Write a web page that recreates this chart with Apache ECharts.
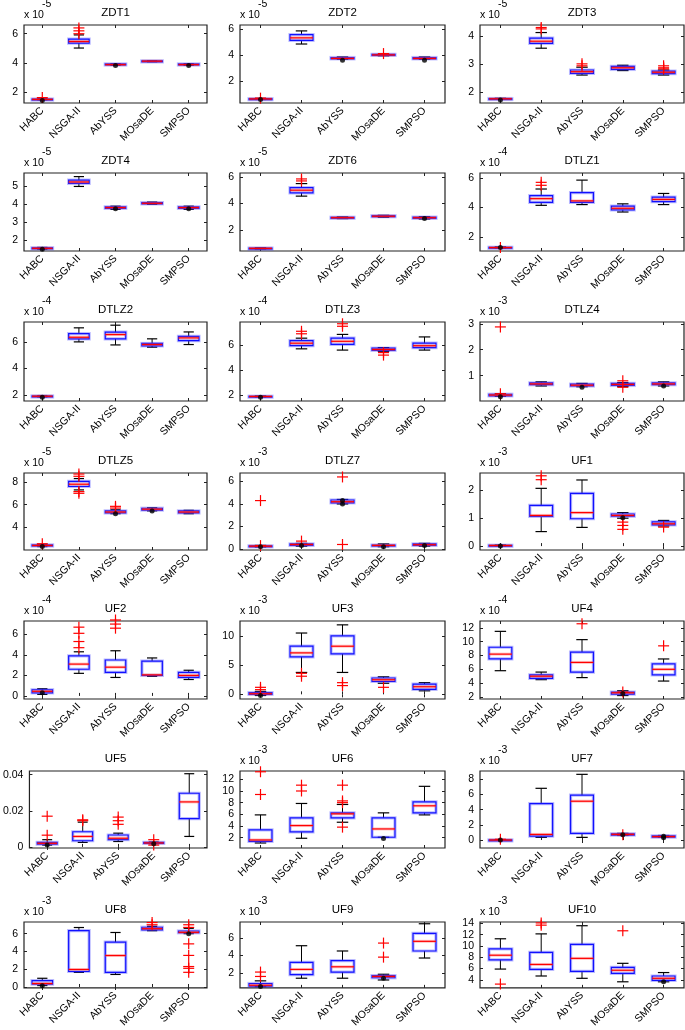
<!DOCTYPE html>
<html><head><meta charset="utf-8">
<script src="https://cdn.jsdelivr.net/npm/echarts@6/dist/echarts.min.js"></script>
<style>html,body{margin:0;padding:0;background:#fff}#c{width:685px;height:1030px}</style>
</head><body><div id="c"></div>
<script>
const algorithms = ['HABC', 'NSGA-II', 'AbYSS', 'MOsaDE', 'SMPSO'];
const problems = ['ZDT1','ZDT2','ZDT3','ZDT4','ZDT6','DTLZ1','DTLZ2','DTLZ3','DTLZ4','DTLZ5','DTLZ7','UF1','UF2','UF3','UF4','UF5','UF6','UF7','UF8','UF9','UF10'];
const exponents = ['-5','-5','-5','-5','-5','-4','-4','-4','-3','-5','-3','-3','-4','-3','-4','','-3','-3','-3','-3','-3'];

// box values per algorithm: [lower whisker, Q1, median, Q3, upper whisker] (in units of the panel multiplier)
// outliers / dots: [algorithm index, value]
const ZDT1_box = [[1.47,1.49,1.5,1.52,1.54],[5.02,5.36,5.47,5.63,5.92],[3.83,3.86,3.88,3.93,3.95],[4.08,4.1,4.12,4.14,4.16],[3.83,3.86,3.88,3.93,3.95]];
const ZDT1_out = [[0,1.62],[1,6.0],[1,6.2],[1,6.4]];
const ZDT1_dot = [[0,1.42],[2,3.82],[4,3.82]];
const ZDT1_range = [1.25, 6.6];
const ZDT1_ticks = [2, 4, 6];

const ZDT2_box = [[0.62,0.64,0.66,0.68,0.7],[4.85,5.12,5.32,5.57,5.85],[3.68,3.72,3.75,3.82,3.86],[3.95,3.98,4.02,4.06,4.1],[3.68,3.72,3.75,3.82,3.86]];
const ZDT2_out = [[0,0.72],[3,4.12]];
const ZDT2_dot = [[0,0.62],[2,3.62],[4,3.62]];
const ZDT2_range = [0.35, 6.3];
const ZDT2_ticks = [2, 4, 6];

const ZDT3_box = [[1.73,1.74,1.75,1.76,1.77],[3.56,3.73,3.81,3.92,4.12],[2.6,2.66,2.72,2.78,2.88],[2.76,2.8,2.86,2.91,2.95],[2.6,2.65,2.7,2.74,2.78]];
const ZDT3_out = [[1,4.25],[1,4.3],[2,2.93],[2,3.0],[4,2.82],[4,2.86],[4,2.93]];
const ZDT3_dot = [[0,1.71]];
const ZDT3_range = [1.6, 4.39];
const ZDT3_ticks = [2, 3, 4];

const ZDT4_box = [[1.5,1.52,1.55,1.58,1.6],[5.0,5.17,5.25,5.35,5.55],[3.72,3.78,3.82,3.86,3.9],[4.0,4.03,4.06,4.1,4.13],[3.72,3.78,3.82,3.86,3.9]];
const ZDT4_out = [];
const ZDT4_dot = [[0,1.5],[2,3.75],[4,3.75]];
const ZDT4_range = [1.4, 5.75];
const ZDT4_ticks = [2, 3, 4, 5];

const ZDT6_box = [[0.55,0.58,0.6,0.62,0.65],[4.55,4.8,5.0,5.2,5.5],[2.85,2.88,2.92,2.95,2.98],[2.95,3.0,3.03,3.07,3.1],[2.82,2.87,2.92,2.96,3.0]];
const ZDT6_out = [[1,5.7],[1,5.85]];
const ZDT6_dot = [[4,2.85]];
const ZDT6_range = [0.4, 6.3];
const ZDT6_ticks = [2, 4, 6];

const DTLZ1_box = [[1.25,1.28,1.3,1.32,1.35],[4.15,4.35,4.6,4.8,5.25],[4.2,4.35,4.45,5.0,5.85],[3.7,3.85,3.95,4.1,4.25],[4.2,4.4,4.55,4.7,4.95]];
const DTLZ1_out = [[0,1.3],[1,5.5],[1,5.7]];
const DTLZ1_dot = [[0,1.3]];
const DTLZ1_range = [1.07, 6.33];
const DTLZ1_ticks = [2, 4, 6];

const DTLZ2_box = [[1.85,1.88,1.9,1.92,1.95],[6.0,6.23,6.35,6.63,7.06],[5.77,6.23,6.55,6.73,7.26],[5.6,5.7,5.8,5.88,6.23],[5.8,6.1,6.3,6.42,6.75]];
const DTLZ2_out = [];
const DTLZ2_dot = [[0,1.83]];
const DTLZ2_range = [1.54, 7.5];
const DTLZ2_ticks = [2, 4, 6];

const DTLZ3_box = [[1.85,1.88,1.9,1.92,1.95],[5.7,5.95,6.15,6.35,6.55],[5.6,6.05,6.3,6.55,6.85],[5.5,5.58,5.65,5.75,5.8],[5.6,5.8,5.95,6.15,6.65]];
const DTLZ3_out = [[1,6.9],[1,7.1],[2,7.5],[2,7.7],[3,5.4],[3,5.2]];
const DTLZ3_dot = [[0,1.83]];
const DTLZ3_range = [1.54, 7.84];
const DTLZ3_ticks = [2, 4, 6];

const DTLZ4_box = [[0.2,0.22,0.25,0.28,0.3],[0.6,0.65,0.68,0.72,0.76],[0.57,0.6,0.63,0.67,0.7],[0.58,0.62,0.66,0.7,0.73],[0.6,0.65,0.68,0.72,0.76]];
const DTLZ4_out = [[0,2.88],[0,0.3],[3,0.8],[3,0.55]];
const DTLZ4_dot = [[0,0.18],[2,0.55],[4,0.6]];
const DTLZ4_range = [0.02, 3.07];
const DTLZ4_ticks = [1, 2, 3];

const DTLZ5_box = [[2.3,2.35,2.4,2.45,2.5],[7.3,7.6,7.8,8.05,8.3],[5.2,5.27,5.35,5.45,5.55],[5.45,5.52,5.6,5.68,5.72],[5.2,5.27,5.35,5.45,5.5]];
const DTLZ5_out = [[0,2.55],[1,8.5],[1,8.7],[1,7.0],[1,7.15],[2,5.7],[2,5.85]];
const DTLZ5_dot = [[0,2.3],[2,5.2],[3,5.45]];
const DTLZ5_range = [2.0, 8.79];
const DTLZ5_ticks = [4, 6, 8];

const DTLZ7_box = [[0.18,0.22,0.25,0.28,0.32],[0.25,0.32,0.4,0.45,0.5],[4.0,4.1,4.2,4.35,4.4],[0.2,0.28,0.32,0.35,0.45],[0.25,0.32,0.38,0.45,0.5]];
const DTLZ7_out = [[0,4.3],[0,0.3],[1,0.7],[2,6.4],[2,0.4]];
const DTLZ7_dot = [[0,0.2],[1,0.3],[2,4.0],[2,4.3],[3,0.2],[4,0.3]];
const DTLZ7_range = [-0.09, 6.75];
const DTLZ7_ticks = [0, 2, 4, 6];

const UF1_box = [[0.0,0.01,0.02,0.03,0.04],[0.52,1.06,1.1,1.46,2.07],[0.67,0.98,1.2,1.89,2.37],[1.0,1.07,1.1,1.15,1.2],[0.72,0.76,0.8,0.87,0.92]];
const UF1_out = [[1,2.38],[1,2.52],[3,0.86],[3,0.74],[3,0.6],[4,0.68]];
const UF1_dot = [[0,0.0],[3,1.02]];
const UF1_range = [-0.14, 2.62];
const UF1_ticks = [0, 1, 2];

const UF2_box = [[0.15,0.3,0.45,0.6,0.7],[2.2,2.6,3.1,3.9,4.3],[1.8,2.3,2.8,3.5,4.4],[1.9,2.0,2.05,3.4,3.7],[1.6,1.8,2.0,2.3,2.5]];
const UF2_out = [[1,4.7],[1,5.3],[1,6.1],[1,6.7],[2,6.6],[2,7.0],[2,7.4]];
const UF2_dot = [[0,0.3]];
const UF2_range = [-0.3, 7.3];
const UF2_ticks = [0, 2, 4, 6];

const UF3_box = [[-0.2,0.0,0.1,0.3,0.5],[3.75,6.42,7.1,8.24,10.5],[3.75,6.93,8.24,10.0,11.9],[1.9,2.2,2.5,2.8,3.0],[0.6,0.85,1.3,1.76,2.0]];
const UF3_out = [[0,0.8],[0,1.2],[1,3.6],[1,3.1],[2,2.0],[2,1.5],[3,1.2]];
const UF3_dot = [[0,-0.2]];
const UF3_range = [-0.8, 12.56];
const UF3_ticks = [0, 5, 10];

const UF4_box = [[5.8,7.5,8.2,9.2,11.5],[4.5,4.7,5.0,5.2,5.6],[4.8,5.6,7.0,8.5,10.3],[2.2,2.4,2.6,2.7,2.9],[4.3,5.2,6.0,6.8,7.5]];
const UF4_out = [[2,12.6],[3,2.7],[4,9.4]];
const UF4_dot = [[3,2.5]];
const UF4_range = [1.7, 13.0];
const UF4_ticks = [2, 4, 6, 8, 10, 12];

const UF5_box = [[0.001,0.0015,0.002,0.0025,0.004],[0.0025,0.0034,0.0058,0.0084,0.0137],[0.003,0.004,0.0048,0.0066,0.0076],[0.0018,0.002,0.0022,0.0025,0.0027],[0.0058,0.0157,0.0249,0.0297,0.0405]];
const UF5_out = [[0,0.0065],[0,0.017],[1,0.0145],[1,0.015],[2,0.0125],[2,0.0145],[2,0.0165],[3,0.004],[3,0.001]];
const UF5_dot = [[0,0.001],[3,0.0018]];
const UF5_range = [-0.0006, 0.042];
const UF5_ticks = [0, 0.02, 0.04];

const UF6_box = [[1.08,1.37,1.6,3.32,5.9],[1.89,2.98,4.07,5.39,7.86],[4.64,5.39,6.08,6.25,7.69],[2.06,2.06,3.49,5.39,6.25],[5.9,6.25,7.46,8.15,10.8]];
const UF6_out = [[0,9.4],[0,13.3],[1,10.0],[1,11.0],[2,11.0],[2,8.3],[2,8.0],[2,3.8]];
const UF6_dot = [[3,1.83]];
const UF6_range = [0.22, 13.43];
const UF6_ticks = [2, 4, 6, 8, 10, 12];

const UF7_box = [[-0.05,-0.02,0.0,0.02,0.05],[0.35,0.52,0.74,4.8,6.81],[0.35,0.87,5.11,5.9,8.65],[0.6,0.65,0.75,0.82,0.88],[0.35,0.38,0.45,0.55,0.6]];
const UF7_out = [[0,0.1],[3,0.7]];
const UF7_dot = [[0,0.0],[3,0.7],[4,0.3],[4,0.5]];
const UF7_range = [-1.05, 9.09];
const UF7_ticks = [0, 2, 4, 6, 8];

const UF8_box = [[0.16,0.33,0.39,0.72,0.98],[1.64,1.74,1.97,6.33,6.69],[1.41,1.64,3.54,5.05,6.13],[6.33,6.43,6.56,6.72,6.82],[6.0,6.1,6.15,6.3,6.6]];
const UF8_out = [[3,7.0],[3,7.25],[4,7.0],[4,6.7],[4,4.85],[4,3.55],[4,2.3],[4,2.1],[4,1.65]];
const UF8_dot = [[0,0.15],[4,6.0]];
const UF8_range = [-0.1, 7.31];
const UF8_ticks = [0, 2, 4, 6];

const UF9_box = [[0.45,0.5,0.6,0.8,1.1],[1.4,1.8,2.4,3.2,5.1],[1.4,2.1,2.7,3.4,4.5],[1.2,1.45,1.6,1.7,1.85],[3.7,4.5,5.6,6.5,7.6]];
const UF9_out = [[0,1.6],[0,2.1],[3,3.8],[3,5.4]];
const UF9_dot = [[0,0.45],[3,1.4]];
const UF9_range = [0.3, 7.8];
const UF9_ticks = [2, 4, 6];

const UF10_box = [[5.9,7.54,8.36,9.49,11.28],[4.67,5.85,6.72,8.87,12.15],[4.26,5.49,7.8,10.3,13.6],[3.64,5.13,5.69,6.2,6.92],[3.64,3.9,4.26,4.67,5.28]];
const UF10_out = [[0,3.23],[1,13.7],[1,14.1],[3,12.7]];
const UF10_dot = [[4,3.65]];
const UF10_range = [2.56, 14.26];
const UF10_ticks = [4, 6, 8, 10, 12, 14];

const boxes = [ZDT1_box,ZDT2_box,ZDT3_box,ZDT4_box,ZDT6_box,DTLZ1_box,DTLZ2_box,DTLZ3_box,DTLZ4_box,DTLZ5_box,DTLZ7_box,UF1_box,UF2_box,UF3_box,UF4_box,UF5_box,UF6_box,UF7_box,UF8_box,UF9_box,UF10_box];
const outliers = [ZDT1_out,ZDT2_out,ZDT3_out,ZDT4_out,ZDT6_out,DTLZ1_out,DTLZ2_out,DTLZ3_out,DTLZ4_out,DTLZ5_out,DTLZ7_out,UF1_out,UF2_out,UF3_out,UF4_out,UF5_out,UF6_out,UF7_out,UF8_out,UF9_out,UF10_out];
const dots = [ZDT1_dot,ZDT2_dot,ZDT3_dot,ZDT4_dot,ZDT6_dot,DTLZ1_dot,DTLZ2_dot,DTLZ3_dot,DTLZ4_dot,DTLZ5_dot,DTLZ7_dot,UF1_dot,UF2_dot,UF3_dot,UF4_dot,UF5_dot,UF6_dot,UF7_dot,UF8_dot,UF9_dot,UF10_dot];
const ranges = [ZDT1_range,ZDT2_range,ZDT3_range,ZDT4_range,ZDT6_range,DTLZ1_range,DTLZ2_range,DTLZ3_range,DTLZ4_range,DTLZ5_range,DTLZ7_range,UF1_range,UF2_range,UF3_range,UF4_range,UF5_range,UF6_range,UF7_range,UF8_range,UF9_range,UF10_range];
const ticks = [ZDT1_ticks,ZDT2_ticks,ZDT3_ticks,ZDT4_ticks,ZDT6_ticks,DTLZ1_ticks,DTLZ2_ticks,DTLZ3_ticks,DTLZ4_ticks,DTLZ5_ticks,DTLZ7_ticks,UF1_ticks,UF2_ticks,UF3_ticks,UF4_ticks,UF5_ticks,UF6_ticks,UF7_ticks,UF8_ticks,UF9_ticks,UF10_ticks];

// ---- layout ----
const colLeft = [24, 240, 480], colRight = [207, 445, 684];
const rowTop = [25, 173, 322, 473, 621, 771, 922], rowBottom = [103, 251, 401, 550, 699, 848, 998];
const FONT = '"Liberation Sans", Arial, sans-serif';
const NFONT = '"Liberation Sans Narrow", "Arial Narrow", "Liberation Sans", sans-serif';

function renderBox(params, api) {
  const i = api.value(0);
  const lo = api.coord([i, api.value(1)]);
  const q1 = api.coord([i, api.value(2)]);
  const md = api.coord([i, api.value(3)]);
  const q3 = api.coord([i, api.value(4)]);
  const hi = api.coord([i, api.value(5)]);
  const band = api.size([1, 0])[0];
  const bw = band * 0.56, cw = band * 0.28;
  const cx = md[0];
  const blk = {stroke: '#000', lineWidth: 1};
  const h = Math.max(q1[1] - q3[1], 1);
  return {type: 'group', children: [
    {type: 'line', shape: {x1: cx, y1: hi[1], x2: cx, y2: q3[1]}, style: blk},
    {type: 'line', shape: {x1: cx, y1: q1[1], x2: cx, y2: lo[1]}, style: blk},
    {type: 'line', shape: {x1: cx - cw / 2, y1: hi[1], x2: cx + cw / 2, y2: hi[1]}, style: {stroke: '#000', lineWidth: 1.2}},
    {type: 'line', shape: {x1: cx - cw / 2, y1: lo[1], x2: cx + cw / 2, y2: lo[1]}, style: {stroke: '#000', lineWidth: 1.2}},
    {type: 'rect', shape: {x: cx - bw / 2, y: q3[1], width: bw, height: h}, style: {fill: 'none', stroke: 'rgba(60,60,255,0.35)', lineWidth: 3.2}},
    {type: 'rect', shape: {x: cx - bw / 2, y: q3[1], width: bw, height: h}, style: {fill: 'none', stroke: '#1010ff', lineWidth: 1.2}},
    {type: 'line', shape: {x1: cx - bw / 2, y1: md[1], x2: cx + bw / 2, y2: md[1]}, style: {stroke: 'rgba(255,80,80,0.35)', lineWidth: 3}},
    {type: 'line', shape: {x1: cx - bw / 2, y1: md[1], x2: cx + bw / 2, y2: md[1]}, style: {stroke: '#ff0000', lineWidth: 1.2}}
  ]};
}
function renderPlus(params, api) {
  const p = api.coord([api.value(0), api.value(1)]);
  const h = 5.5;
  return {type: 'group', children: [
    {type: 'line', shape: {x1: p[0] - h, y1: p[1], x2: p[0] + h, y2: p[1]}, style: {stroke: '#ff0000', lineWidth: 1.2}},
    {type: 'line', shape: {x1: p[0], y1: p[1] - h, x2: p[0], y2: p[1] + h}, style: {stroke: '#ff0000', lineWidth: 1.2}}
  ]};
}

const grid = [], xAxis = [], yAxis = [], series = [], graphic = [];
problems.forEach((name, k) => {
  const r = Math.floor(k / 3), c = k % 3;
  const left = colLeft[c], top = rowTop[r];
  const width = colRight[c] - left, height = rowBottom[r] - top;
  grid.push({left, top, width, height, show: true, borderColor: '#222', borderWidth: 1.2, backgroundColor: 'transparent'});
  const tickStyle = {show: true, inside: true, length: 3, alignWithLabel: true, lineStyle: {color: '#222'}};
  xAxis.push({type: 'category', gridIndex: k, data: algorithms, position: 'bottom',
    axisLine: {show: false}, axisTick: tickStyle,
    axisLabel: {interval: 0, rotate: 45, fontSize: 10.5, color: '#000', fontFamily: NFONT, margin: 6}});
  xAxis.push({type: 'category', gridIndex: k, data: algorithms, position: 'top',
    axisLine: {show: false}, axisTick: tickStyle, axisLabel: {show: false}});
  const yt = ticks[k];
  yAxis.push({type: 'value', gridIndex: k, min: ranges[k][0], max: ranges[k][1], position: 'left',
    axisLine: {show: false}, splitLine: {show: false},
    axisTick: {show: true, inside: true, length: 3, customValues: yt, lineStyle: {color: '#222'}},
    axisLabel: {customValues: yt, fontSize: 10.5, color: '#000', fontFamily: FONT, margin: 6}});
  yAxis.push({type: 'value', gridIndex: k, min: ranges[k][0], max: ranges[k][1], position: 'right',
    axisLine: {show: false}, splitLine: {show: false},
    axisTick: {show: true, inside: true, length: 3, customValues: yt, lineStyle: {color: '#222'}},
    axisLabel: {show: false}});
  series.push({type: 'custom', xAxisIndex: 2 * k, yAxisIndex: 2 * k, renderItem: renderBox,
    encode: {x: 0, y: [1, 2, 3, 4, 5]}, data: boxes[k].map((b, i) => [i].concat(b)), silent: true, z: 3});
  series.push({type: 'custom', xAxisIndex: 2 * k, yAxisIndex: 2 * k, renderItem: renderPlus,
    encode: {x: 0, y: 1}, data: outliers[k], silent: true, z: 4});
  series.push({type: 'scatter', xAxisIndex: 2 * k, yAxisIndex: 2 * k, data: dots[k],
    symbol: 'circle', symbolSize: 5, itemStyle: {color: '#000'}, silent: true, z: 5});
  graphic.push({type: 'text', x: left + width / 2, y: top - 12,
    style: {text: name, fill: '#000', font: '11.5px ' + NFONT, textAlign: 'center', textVerticalAlign: 'middle'}});
  if (exponents[k]) {
    graphic.push({type: 'text', x: left, y: top - 10,
      style: {text: 'x 10', fill: '#000', font: '10.5px ' + NFONT, textAlign: 'left', textVerticalAlign: 'middle'}});
    graphic.push({type: 'text', x: left + 18, y: top - 21,
      style: {text: exponents[k], fill: '#000', font: '10.5px ' + NFONT, textAlign: 'left', textVerticalAlign: 'middle'}});
  }
});

const chart = echarts.init(document.getElementById('c'), null, {renderer: 'canvas'});
chart.setOption({animation: false, backgroundColor: '#fff', grid, xAxis, yAxis, series, graphic});
</script>
</body></html>
